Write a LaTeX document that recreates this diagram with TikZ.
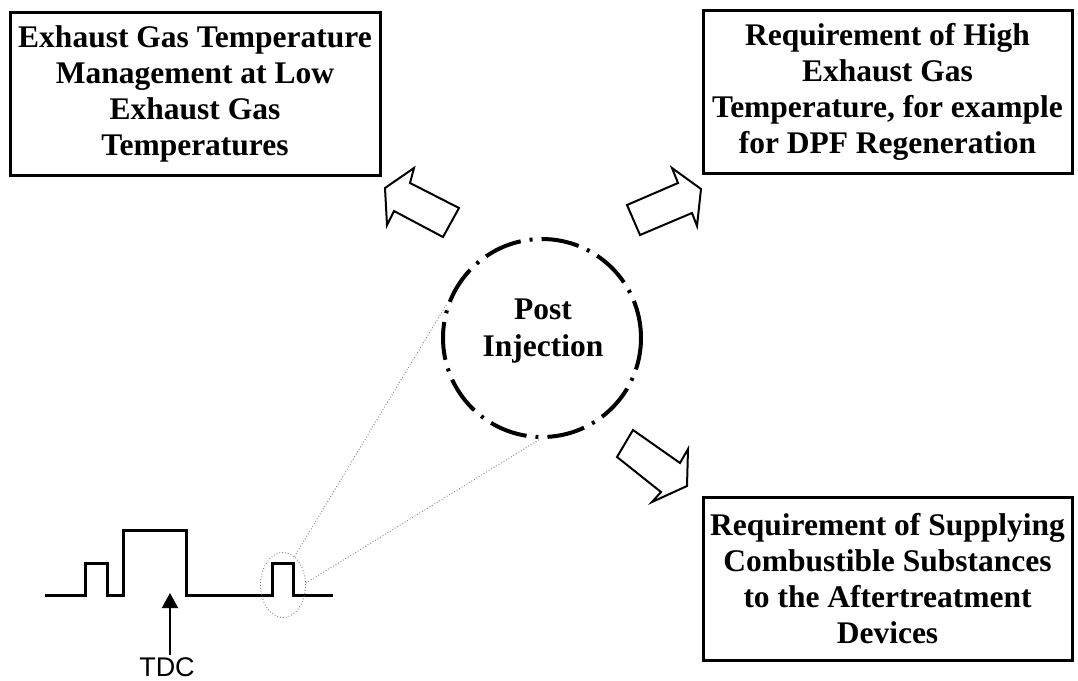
\documentclass[tikz,border=0pt]{standalone}
\usepackage{fontspec}
\setmainfont{Liberation Serif}
\newfontfamily\labelsans{Liberation Sans}
\usetikzlibrary{arrows.meta,shapes.geometric}
\tikzset{
  infobox/.style={draw, line width=3pt, inner sep=0pt, align=center,
    font=\bfseries\fontsize{31.5}{36}\selectfont},
  blockarrow/.style={draw, line width=2pt, line join=miter, fill=white},
  pulse/.style={line width=3pt, line join=miter},
  zoomline/.style={gray, line width=0.9pt, dotted},
}
\begin{document}
\begin{tikzpicture}[x=1pt, y=-1pt]
\useasboundingbox (0,0) rectangle (1078,680);

% outcome boxes
\node[infobox, minimum width=370pt, minimum height=163pt] (low) at (195,93.5)
  {Exhaust Gas Temperature\\Management at Low\\Exhaust Gas\\Temperatures};
\node[infobox, minimum width=369pt, minimum height=163pt] (high) at (887.5,91.5)
  {Requirement of High\\Exhaust Gas\\Temperature, for example\\for DPF Regeneration};
\node[infobox, minimum width=369pt, minimum height=163pt] (supply) at (887.5,578.5)
  {Requirement of Supplying\\Combustible Substances\\to the Aftertreatment\\Devices};

% post injection circle
\node[circle, draw, line width=4pt, minimum size=198pt, inner sep=0pt,
  dash pattern=on 38pt off 9pt on 3pt off 9pt] (pi) at (542,338) {};
\node[align=center, font=\bfseries\fontsize{31.5}{37}\selectfont] (pitext) at (543,331)
  {Post\\Injection};

% block arrows pointing from the circle to the boxes
\draw[blockarrow] (385,188) -- (414,168) -- (410,183) -- (459,208) -- (443,237)
  -- (394,211) -- (387,225) -- cycle;
\draw[blockarrow] (701,189) -- (672,168) -- (678,183) -- (627,205) -- (640,235)
  -- (692,213) -- (697,226) -- cycle;
\draw[blockarrow] (687,486) -- (652,502) -- (661,492) -- (617,457) -- (633,430)
  -- (680,463) -- (688,449) -- cycle;

% injection pulse train
\draw[pulse] (45,595) -- (85,595) -- (85,563) -- (107,563) -- (107,595)
  -- (123,595) -- (123,530) -- (186,530) -- (186,595)
  -- (272,595) -- (272,563) -- (293,563) -- (293,595) -- (333,595);

% highlighted post pulse and zoom lines
\node[ellipse, draw, zoomline, minimum width=45pt, minimum height=65pt,
  inner sep=0pt] (postpulse) at (283,585) {};
\draw[zoomline] (postpulse.68) -- (pi.160);
\draw[zoomline] (postpulse.5) -- (pi.269);

% top dead centre marker
\node[font=\labelsans\fontsize{27}{27}\selectfont, inner sep=2pt] (tdc) at (167,667) {TDC};
\coordinate (tdctip) at (170,593);
\draw[line width=2pt, -{Triangle[length=15pt,width=16pt]}] (tdc.north -| tdctip) -- (tdctip);
\end{tikzpicture}
\end{document}
